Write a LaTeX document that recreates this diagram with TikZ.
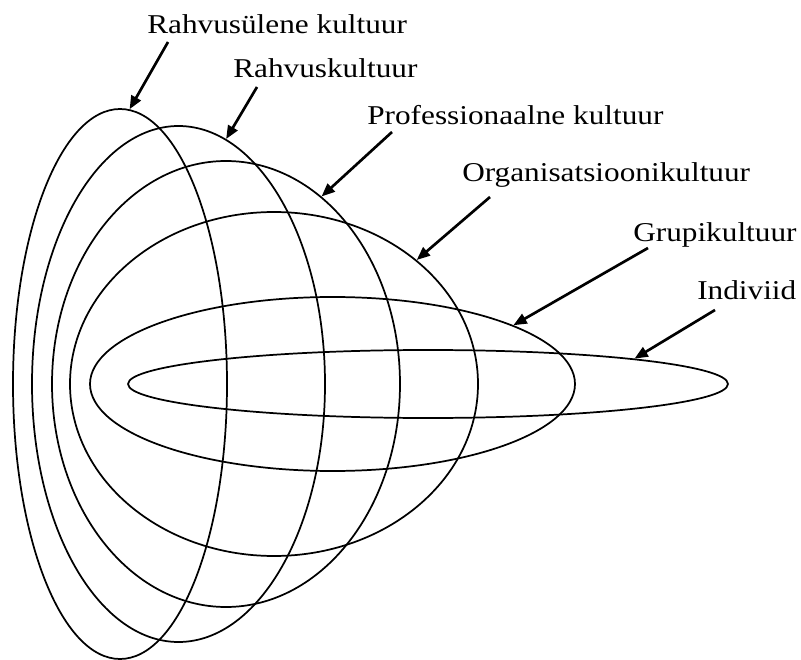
\documentclass[tikz,border=0pt]{standalone}
\usepackage{fontspec}
\setmainfont[FakeStretch=1.15]{Liberation Serif}
\usetikzlibrary{arrows.meta,shapes.geometric}
\tikzset{
  ring/.style={draw, ellipse, inner sep=0pt, line width=1.3pt},
  lbl/.style={anchor=base west, inner sep=0pt, font=\fontsize{20.4}{24}\selectfont},
  pointer/.style={-{Triangle[length=10pt,width=8pt]}, line width=2pt},
}
\begin{document}
\begin{tikzpicture}[x=0.75pt,y=-0.75pt]
  \useasboundingbox (0,0) rectangle (801,660);
  % nested layers, outermost first
  \foreach \n/\cx/\rx/\ry in {1/120/107/275, 2/178.5/146.5/258, 3/226/174/223,
                              4/274/204/172, 5/332.5/242.5/87, 6/428/300/34}
    \node[ring, minimum width=1.5*\rx, minimum height=1.5*\ry] (e\n) at (\cx,384) {};
  % labels
  \node[lbl] (l1) at (147,34) {Rahvusülene kultuur};
  \node[lbl] (l2) at (233,78) {Rahvuskultuur};
  \node[lbl] (l3) at (367,125) {Professionaalne kultuur};
  \node[lbl] (l4) at (462,182) {Organisatsioonikultuur};
  \node[lbl] (l5) at (633,242) {Grupikultuur};
  \node[lbl] (l6) at (697,300) {Indiviid};
  % pointers
  \draw[pointer] ([shift={(21,8)}]l1.base west) -- (e1.88);
  \draw[pointer] ([shift={(24,9)}]l2.base west) -- (e2.79);
  \draw[pointer] ([shift={(25,7)}]l3.base west) -- (e3.63);
  \draw[pointer] ([shift={(28,15)}]l4.base west) -- (e4.41);
  \draw[pointer] ([shift={(15,6)}]l5.base west) -- (e5.18);
  \draw[pointer] ([shift={(18,10)}]l6.base west) -- (e6.7.3);
\end{tikzpicture}
\end{document}
